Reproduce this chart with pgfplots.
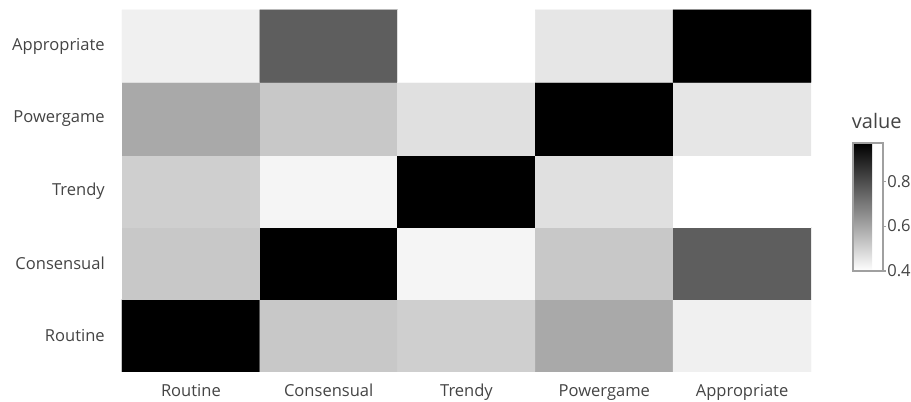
\documentclass[border=0pt]{standalone}
\usepackage{pgfplots}
\pgfplotsset{compat=1.18}
\usepackage{fontspec}
\setmainfont{Open Sans}
\definecolor{txt}{HTML}{444444}
\definecolor{frame}{HTML}{A0A0A0}
\begin{document}
\begin{tikzpicture}
\useasboundingbox (0,0) rectangle (683.25pt,301.5pt);
\begin{axis}[
  at={(91.5pt,22.5pt)}, anchor=south west,
  scale only axis, width=516.75pt, height=271.5pt,
  xmin=-0.5, xmax=4.5, ymin=-0.5, ymax=4.5,
  axis line style={draw=none},
  major tick length=0pt,
  xtick={0,1,2,3,4}, ytick={0,1,2,3,4},
  xticklabels={Routine,Consensual,Trendy,Powergame,Appropriate},
  yticklabels={Routine,Consensual,Trendy,Powergame,Appropriate},
  tick label style={font=\fontsize{12.4}{14}\selectfont, text=txt, inner sep=0pt},
  xticklabel style={anchor=base, yshift=-18.5pt},
  yticklabel style={anchor=east, xshift=-12.75pt},
  /pgf/number format/assume math mode=true,
  colormap={greys}{rgb255=(255,255,255) rgb255=(0,0,0)},
  point meta min=0.4, point meta max=0.97,
  colorbar,
  colorbar style={
    at={(1.061,0.6326)}, anchor=north west,
    scale only axis, width=22.5pt, height=96pt,
    axis line style={draw=frame, line width=1.6pt},
    ytick={0.4,0.6,0.8},
    ytick pos=right,
    yticklabel pos=right,
    major tick length=2pt,
    tick style={draw=frame, line width=0.8pt},
    tick align=outside,
    yticklabel style={font=\fontsize{12.4}{14}\selectfont, text=txt, inner sep=0pt, anchor=west, xshift=1pt,
      /pgf/number format/.cd, fixed, fixed zerofill, precision=1, assume math mode=true},
    title={value},
    title style={at={(0,1)}, anchor=base west, yshift=5pt, xshift=-1pt, inner sep=0pt,
      font=\fontsize{15}{18}\selectfont, text=txt},
  },
]
\addplot[matrix plot*, mesh/cols=5, point meta=explicit] table[meta=v] {
x y v
0 0 0.97
1 0 0.523
2 0 0.507
3 0 0.590
4 0 0.434
0 1 0.523
1 1 0.97
2 1 0.422
3 1 0.523
4 1 0.758
0 2 0.507
1 2 0.422
2 2 0.97
3 2 0.469
4 2 0.40
0 3 0.590
1 3 0.523
2 3 0.469
3 3 0.97
4 3 0.456
0 4 0.434
1 4 0.758
2 4 0.40
3 4 0.456
4 4 0.97
};
\end{axis}
\end{tikzpicture}
\end{document}
